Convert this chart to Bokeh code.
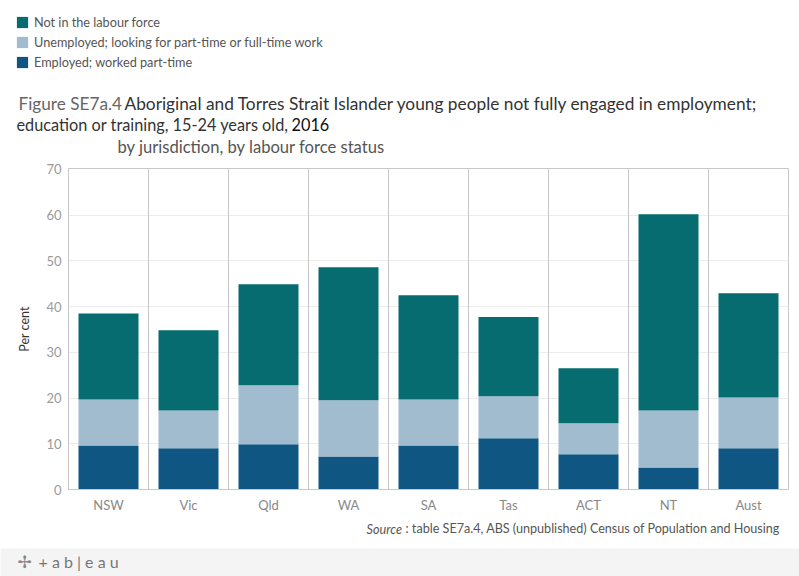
from bokeh.plotting import figure
from bokeh.layouts import column
from bokeh.models import (ColumnDataSource, FactorRange, Range1d, FixedTicker, Span,
                          Label, Legend, LegendItem, BoxAnnotation)
from bokeh.embed import file_html
from bokeh.resources import INLINE

# ---- data ----
states = ["NSW", "Vic", "Qld", "WA", "SA", "Tas", "ACT", "NT", "Aust"]
employed_part_time = [9.6, 9.0, 9.9, 7.2, 9.6, 11.2, 7.7, 4.8, 9.0]
unemployed_looking = [10.1, 8.3, 12.9, 12.3, 10.1, 9.2, 6.8, 12.5, 11.1]
not_in_labour_force = [18.8, 17.5, 22.1, 29.1, 22.8, 17.3, 12.0, 42.9, 22.8]
y_ticks = [0, 10, 20, 30, 40, 50, 60, 70]

series = ["employed", "unemployed", "nilf"]
legend_order = ["nilf", "unemployed", "employed"]
series_labels = {
    "nilf": "Not in the labour force",
    "unemployed": "Unemployed; looking for part-time or full-time work",
    "employed": "Employed; worked part-time",
}
colors = {"employed": "#0f5683", "unemployed": "#a1bccf", "nilf": "#066c70"}

source = ColumnDataSource(dict(state=states, employed=employed_part_time,
                               unemployed=unemployed_looking, nilf=not_in_labour_force))

FONT = "Lato"
W = 799
H_HEAD, H_MAIN, H_FOOT = 160, 355, 61   # page rows: 0-160, 160-515, 515-576


def blank_fig(height, y_top):
    f = figure(width=W, height=height, x_range=Range1d(0, W),
               y_range=Range1d(y_top + height, y_top), output_backend="svg",
               toolbar_location=None, x_axis_type=None, y_axis_type=None,
               min_border=0, min_border_left=0, min_border_right=0,
               min_border_top=0, min_border_bottom=0, frame_align=False)
    f.outline_line_color = None
    f.background_fill_color = "white"
    f.border_fill_color = "white"
    f.grid.visible = False
    return f


def lab(f, text, x, y, size="15px", color="#333333", style="normal", align="left", font=FONT):
    f.add_layout(Label(x=x, y=y, text=text, text_font=font, text_font_size=size,
                       text_color=color, text_font_style=style, text_align=align,
                       text_baseline="middle"))


# ---------------- header: legend + titles ----------------
head = blank_fig(H_HEAD, 0)
# hidden renderers (same data) that only feed the legend swatches
dummies = {s: head.vbar(x=0, width=1, top=s, source=source, color=colors[s],
                        line_color=None, visible=False) for s in series}
legend = Legend(items=[LegendItem(label=series_labels[s], renderers=[dummies[s]])
                       for s in legend_order],
                location=(15, H_HEAD - 70), orientation="vertical",
                glyph_width=14, glyph_height=14, label_height=14, spacing=4,
                label_standoff=5, padding=0, margin=0, border_line_color=None,
                background_fill_alpha=0, label_text_font=FONT,
                label_text_font_size="12.7px", label_text_color="#555555",
                label_text_baseline="middle", click_policy="none")
head.add_layout(legend, "center")

lab(head, "Figure SE7a.4", 18, 103, size="17.2px", color="#666666")
lab(head, "Aboriginal and Torres Strait Islander young people not fully engaged in employment;",
    124, 103, size="17.3px", color="#333333")
lab(head, "education or training, 15-24 years old,", 16, 124, size="16.3px", color="#333333")
lab(head, "2016", 291, 124, size="16.3px", color="#111111")
lab(head, "by jurisdiction, by labour force status", 117, 146, size="16.6px", color="#555555")

# ---------------- main chart ----------------
FL, FR = 68, 788
p = figure(width=W, height=H_MAIN, x_range=FactorRange(*states, range_padding=0),
           y_range=Range1d(0, 70.2), output_backend="svg", toolbar_location=None,
           min_border_left=FL, min_border_top=8, min_border_right=W - FR,
           min_border_bottom=26, frame_align=False)
p.title = None
p.background_fill_color = "white"
p.border_fill_color = "white"
p.outline_line_color = "#c8c8c8"

p.vbar_stack(series, x="state", width=0.75, source=source,
             color=[colors[s] for s in series], line_color=None)

p.yaxis.ticker = FixedTicker(ticks=y_ticks)
p.yaxis.axis_line_color = "#c8c8c8"
p.yaxis.major_tick_line_color = None
p.yaxis.minor_tick_line_color = None
p.yaxis.major_tick_out = 0
p.yaxis.major_tick_in = 0
p.yaxis.major_label_text_font = FONT
p.yaxis.major_label_text_font_size = "13px"
p.yaxis.major_label_text_color = "#9a9a9a"
p.yaxis.major_label_standoff = 7
p.yaxis.axis_label = "Per cent"
p.yaxis.axis_label_text_font = FONT
p.yaxis.axis_label_text_font_size = "12.5px"
p.yaxis.axis_label_text_font_style = "normal"
p.yaxis.axis_label_text_color = "#333333"
p.yaxis.axis_label_standoff = 11

p.xaxis.axis_line_color = "#c8c8c8"
p.xaxis.major_tick_line_color = None
p.xaxis.minor_tick_line_color = None
p.xaxis.major_tick_out = 0
p.xaxis.major_tick_in = 0
p.xaxis.major_label_text_font = FONT
p.xaxis.major_label_text_font_size = "13px"
p.xaxis.major_label_text_color = "#888888"
p.xaxis.major_label_standoff = 7

p.xgrid.grid_line_color = None
p.ygrid.ticker = FixedTicker(ticks=y_ticks[1:-1])
p.ygrid.grid_line_color = "#ececec"
p.ygrid.level = "underlay"

for k in range(1, len(states)):
    p.add_layout(Span(location=k, dimension="height", line_color="#c8c8c8", line_width=1))

# ---------------- footer: source + tableau bar ----------------
foot = blank_fig(H_FOOT, 515)
lab(foot, "Source", 366, 528, size="12.7px", color="#555555", style="italic")
lab(foot, ": table SE7a.4, ABS (unpublished) Census of Population and Housing", 405, 528,
    size="12.6px", color="#555555")
foot.add_layout(BoxAnnotation(left=0, right=W, top=548, bottom=576,
                              fill_color="#f4f4f4", fill_alpha=1, line_color=None))
lab(foot, "\u2722", 24, 561, size="17px", color="#888888", align="center", font="DejaVu Sans")
lab(foot, "+ a b | e a u", 38, 561, size="16px", color="#777777")

layout = column(head, p, foot, spacing=0)
open("out.html", "w").write(file_html(layout, INLINE))
